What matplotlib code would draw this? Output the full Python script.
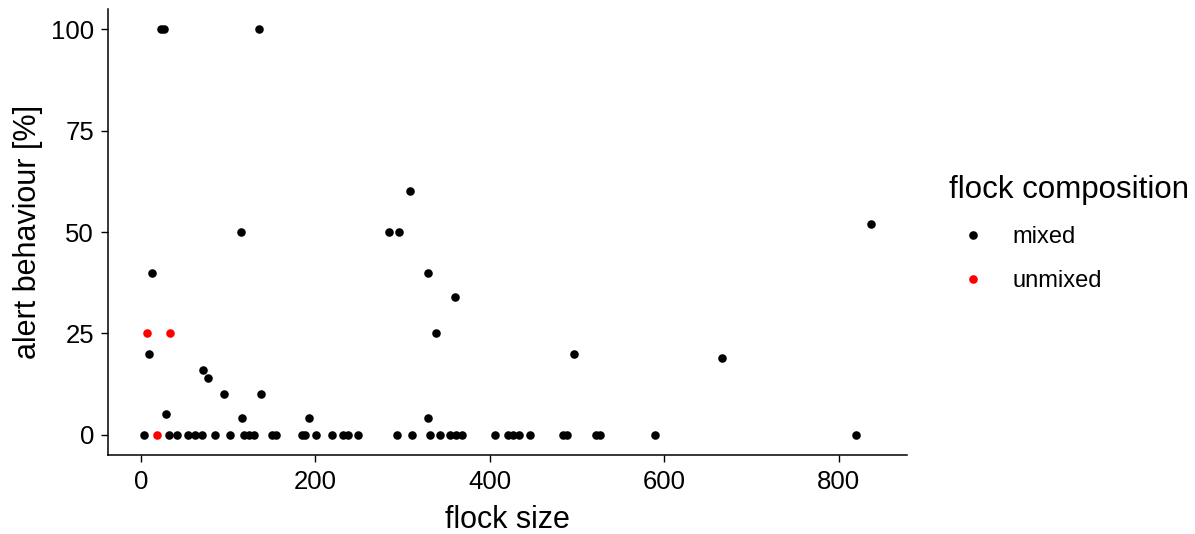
import matplotlib.pyplot as plt
from matplotlib.lines import Line2D

plt.rcParams['font.family'] = ['Liberation Sans', 'DejaVu Sans']

# flock size / alert behaviour [%]
mixed_size = [23, 27, 136, 309, 837, 115, 284, 296, 13, 329, 360, 338, 9, 497,
              666, 71, 77, 95, 138, 29, 116, 193, 329,
              4, 32, 42, 54, 62, 70, 85, 102, 118, 124, 130, 150, 155, 185, 188,
              201, 219, 232, 237, 249, 294, 311, 332, 343, 354, 361, 368, 406,
              421, 427, 433, 446, 484, 488, 522, 526, 589, 820]
mixed_alert = [100, 100, 100, 60, 52, 50, 50, 50, 40, 40, 34, 25, 20, 20,
               19, 16, 14, 10, 10, 5, 4, 4, 4,
               0, 0, 0, 0, 0, 0, 0, 0, 0, 0, 0, 0, 0, 0, 0,
               0, 0, 0, 0, 0, 0, 0, 0, 0, 0, 0, 0, 0,
               0, 0, 0, 0, 0, 0, 0, 0, 0, 0]
unmixed_size = [7, 34, 19]
unmixed_alert = [25, 25, 0]

groups = ['mixed', 'unmixed']
colours = ['black', 'red']
x_ticks = [0, 200, 400, 600, 800]
y_ticks = [0, 25, 50, 75, 100]

fig = plt.figure(figsize=(11.95, 5.34), dpi=100)
ax = fig.add_axes([0.0904, 0.148, 0.759 - 0.0904, 0.983 - 0.148])

ax.scatter(mixed_size, mixed_alert, s=38, color=colours[0], linewidths=0, zorder=3)
ax.scatter(unmixed_size, unmixed_alert, s=38, color=colours[1], linewidths=0, zorder=4)

ax.set_xlim(-37.6, 878.3)
ax.set_ylim(-5, 105)
ax.set_xticks(x_ticks)
ax.set_yticks(y_ticks)
ax.tick_params(labelsize=18.5, length=5, width=1, colors='black')
ax.tick_params(axis='x', pad=6)
ax.tick_params(axis='y', pad=5)

for side in ['top', 'right']:
    ax.spines[side].set_visible(False)
for side in ['left', 'bottom']:
    ax.spines[side].set_linewidth(1.1)

ax.set_xlabel('flock size', fontsize=22, labelpad=8)
ax.set_ylabel('alert behaviour [%]', fontsize=22, labelpad=6)

handles = [Line2D([], [], marker='o', linestyle='', markersize=6.2,
                  markerfacecolor=c, markeredgewidth=0) for c in colours]
leg = ax.legend(handles, groups, title='flock composition', loc='upper left',
                bbox_to_anchor=(0.776, 0.713), bbox_transform=fig.transFigure,
                frameon=False, fontsize=17, title_fontsize=22.5, alignment='left',
                handletextpad=0.6, labelspacing=0.92, handlelength=2.1)

fig.savefig('out.png', dpi=100)
